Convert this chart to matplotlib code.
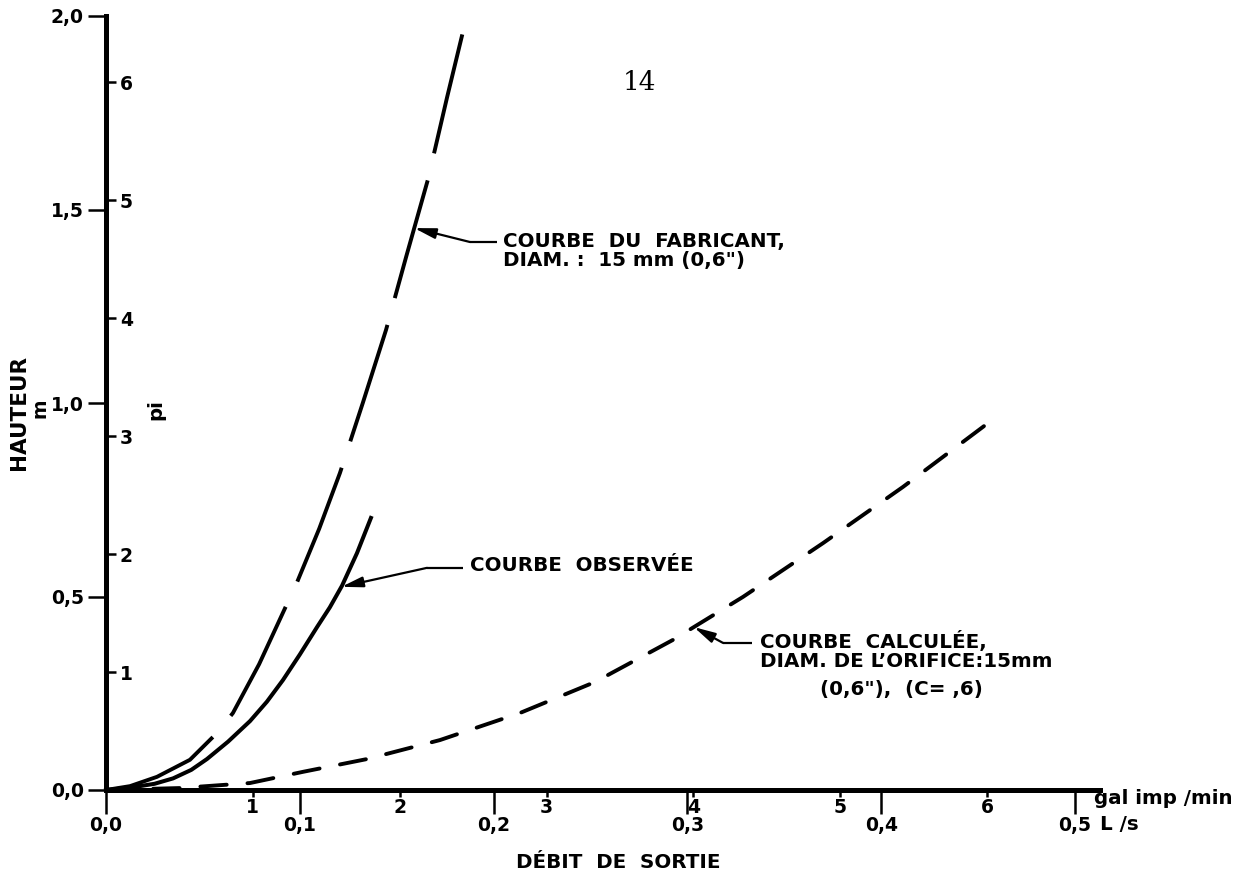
import numpy as np
import matplotlib
matplotlib.use("Agg")
import matplotlib.pyplot as plt

# Débit (L/s) et hauteur (m) lus pour chaque courbe
q_fabricant = [0.0, 0.0124, 0.0263, 0.0433, 0.0578, 0.0655, 0.0790, 0.0924, 0.0986,
               0.1100, 0.1207, 0.1325, 0.1445, 0.1550, 0.1662, 0.1760, 0.1863]
h_fabricant = [0.0, 0.010, 0.034, 0.078, 0.150, 0.199, 0.325, 0.470, 0.537,
               0.675, 0.819, 1.000, 1.189, 1.380, 1.579, 1.790, 2.003]

q_observe = [0.0, 0.0124, 0.0250, 0.0346, 0.0440, 0.0521, 0.0630, 0.0743, 0.0830, 0.0913,
             0.1000, 0.1089, 0.1155, 0.1218, 0.1295, 0.1367]
h_observe = [0.0, 0.006, 0.016, 0.030, 0.052, 0.080, 0.125, 0.178, 0.228, 0.284,
             0.350, 0.421, 0.472, 0.528, 0.612, 0.703]

q_calcule = [0.0, 0.038, 0.0743, 0.1017, 0.1347, 0.1723, 0.2136, 0.2523, 0.2926, 0.3287, 0.3700, 0.4112, 0.4551]
h_calcule = [0.0, 0.005, 0.018, 0.047, 0.080, 0.129, 0.199, 0.279, 0.388, 0.499, 0.638, 0.783, 0.948]

# graduations
ticks_ls = [0.0, 0.1, 0.2, 0.3, 0.4, 0.5]
labels_ls = ["0,0", "0,1", "0,2", "0,3", "0,4", "0,5"]
ticks_gal = [1, 2, 3, 4, 5, 6]
ticks_m = [0.0, 0.5, 1.0, 1.5, 2.0]
labels_m = ["0,0", "0,5", "1,0", "1,5", "2,0"]
ticks_pi = [1, 2, 3, 4, 5, 6]

LS_PAR_GAL = 4.54609 / 60.0   # gal imp/min -> L/s
M_PAR_PI = 0.3048

plt.rcParams["font.family"] = ["DejaVu Sans"]
plt.rcParams["font.weight"] = "bold"
plt.rcParams["font.size"] = 14.3
plt.rcParams["xtick.labelsize"] = 13.5
plt.rcParams["ytick.labelsize"] = 13.5
plt.rcParams["lines.scale_dashes"] = False

W, H = 1254, 881
fig = plt.figure(figsize=(W / 100, H / 100), dpi=100)


def px(x, y):
    return x / W, 1 - y / H


q_max = (1100 - 106) / 1938
h_max = (790 - 12) / 387
ax = fig.add_axes([106 / W, 91 / H, (1100 - 106) / W, (790 - 12) / H])
ax.set_xlim(0, q_max)
ax.set_ylim(0, h_max)

for s in ["top", "right"]:
    ax.spines[s].set_visible(False)
ax.spines["left"].set_bounds(0, 2.0)
ax.spines["bottom"].set_bounds(0, q_max)
for s in ["left", "bottom"]:
    ax.spines[s].set_linewidth(3.6)

ax.set_xticks(ticks_ls, labels_ls)
ax.set_yticks(ticks_m, labels_m)
ax.tick_params(axis="x", direction="out", length=17, width=1.8, pad=2)
ax.tick_params(axis="y", direction="out", length=13, width=1.8, pad=3)

# échelle en pieds, à l'intérieur de l'axe vertical
ax_pi = ax.twinx()
ax_pi.set_ylim(0, h_max / M_PAR_PI)
ax_pi.spines["right"].set_position(("axes", 0))
for s in ax_pi.spines.values():
    s.set_visible(False)
ax_pi.set_yticks(ticks_pi, [str(t) for t in ticks_pi])
ax_pi.tick_params(axis="y", direction="out", length=7, width=1.8, pad=3)

# échelle en gal imp/min sous l'axe horizontal
ax_gal = ax.twiny()
ax_gal.set_xlim(0, q_max / LS_PAR_GAL)
ax_gal.xaxis.set_ticks_position("bottom")
ax_gal.xaxis.set_label_position("bottom")
for s in ax_gal.spines.values():
    s.set_visible(False)
ax_gal.set_xticks(ticks_gal, [str(t) for t in ticks_gal])
ax_gal.tick_params(axis="x", direction="out", length=5, width=1.8, pad=1)

# courbes
ax.plot(q_fabricant, h_fabricant, color="black", lw=2.8,
        linestyle=(0, (88, 20)), dash_capstyle="butt", clip_on=False, zorder=5)
ax.plot(q_observe, h_observe, color="black", lw=2.9, clip_on=False, zorder=5)
ax.plot(q_calcule, h_calcule, color="black", lw=2.8,
        linestyle=(0, (19, 15)), dash_capstyle="round", clip_on=False, zorder=5)


def renvoi(q_curve, h_curve, h_tip, coude, fin):
    tip = (np.interp(h_tip, h_curve, q_curve), h_tip)
    ax.plot([coude[0], fin[0]], [coude[1], fin[1]], color="black", lw=1.6,
            solid_capstyle="butt", clip_on=False)
    ax.annotate("", xy=tip, xytext=coude,
                arrowprops=dict(arrowstyle="-|>,head_length=0.9,head_width=0.22",
                                color="black", lw=1.6, shrinkA=0, shrinkB=0))


renvoi(q_fabricant, h_fabricant, 1.452, (0.1878, 1.416), (0.2018, 1.416))
ax.text(0.2048, 1.393, "COURBE  DU  FABRICANT,\nDIAM. :  15 mm (0,6\")",
        ha="left", va="center", linespacing=1.0)

renvoi(q_observe, h_observe, 0.525, (0.1656, 0.574), (0.1842, 0.574))
ax.text(0.1878, 0.581, "COURBE  OBSERVÉE", ha="left", va="center")

renvoi(q_calcule, h_calcule, 0.421, (0.3184, 0.380), (0.3333, 0.380))
ax.text(0.3375, 0.358, "COURBE  CALCULÉE,\nDIAM. DE L’ORIFICE:15mm",
        ha="left", va="center", linespacing=1.0)
ax.text(0.3684, 0.259, "(0,6\"),  (C= ,6)", ha="left", va="center")

# titres des axes
fig.text(*px(19, 413), "HAUTEUR", rotation=90, ha="center", va="center", fontsize=15.5)
fig.text(*px(40, 408), "m", rotation=90, ha="center", va="center", fontsize=13.5)
fig.text(*px(156, 410), "pi", rotation=90, ha="center", va="center")
fig.text(*px(618, 862), "DÉBIT  DE  SORTIE", ha="center", va="center")
fig.text(*px(1094, 799), "gal imp /min", ha="left", va="center")
fig.text(*px(1100, 824), "L /s", ha="left", va="center")
fig.text(*px(639, 83), "14", family="DejaVu Serif", weight="normal",
         fontsize=19, ha="center", va="center")

fig.savefig("out.png", dpi=100, facecolor="white")
